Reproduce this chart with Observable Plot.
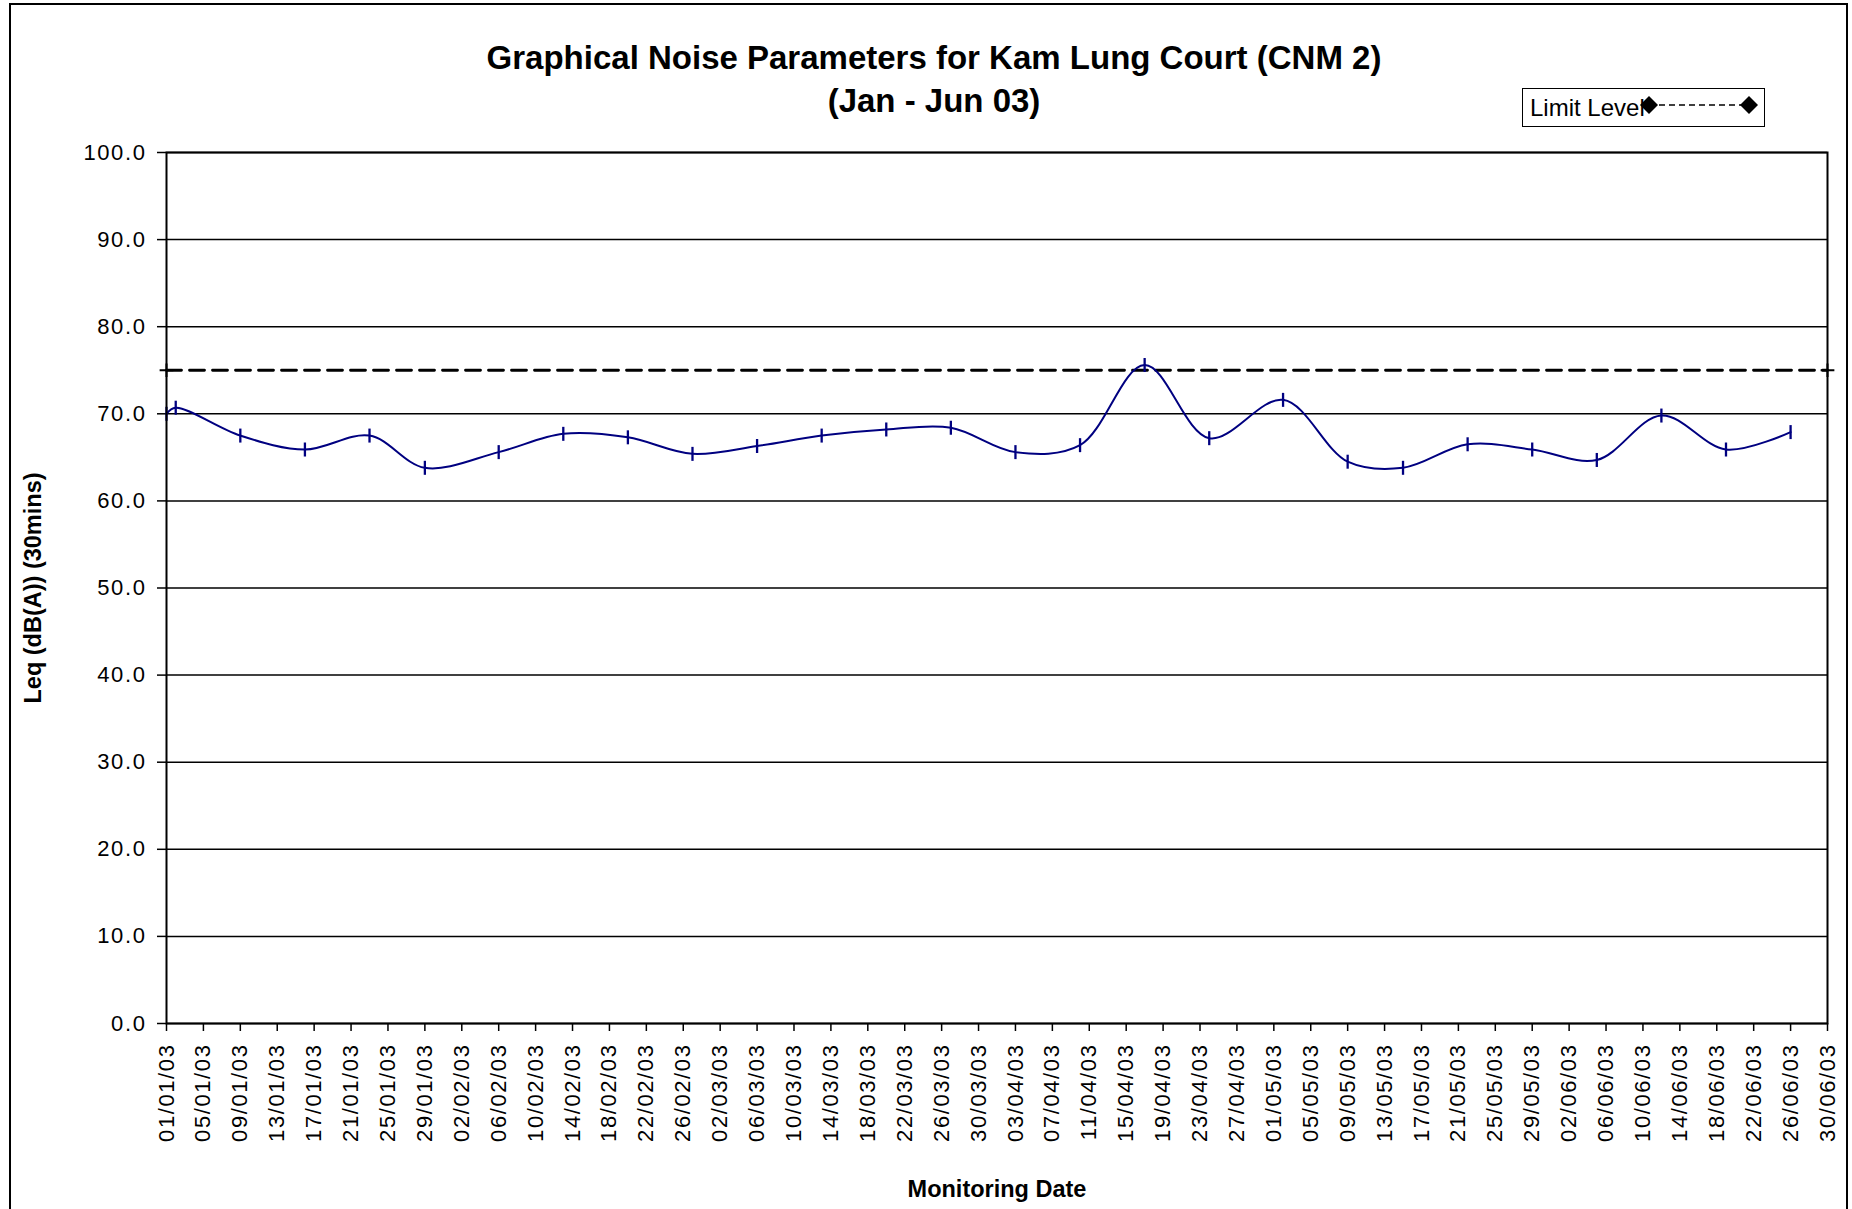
<!DOCTYPE html>
<html>
<head>
<meta charset="utf-8">
<script src="https://cdn.jsdelivr.net/npm/d3@7"></script>
<script src="https://cdn.jsdelivr.net/npm/@observablehq/plot@0.6"></script>
<style>
  body { margin: 0; background: #fff; font-family: "Liberation Sans", Arial, sans-serif; }
  #wrap { position: relative; width: 1852px; height: 1209px; overflow: hidden; background: #fff; }
  #header { position: relative; height: 130px; }
  #title { position: absolute; left: 934px; top: 36px; transform: translateX(-50%); text-align: center;
           font-weight: bold; font-size: 33px; line-height: 43px; white-space: nowrap; color: #000; }
  #legend { position: absolute; left: 1522px; top: 88px; width: 243px; height: 39px; box-sizing: border-box;
            border: 1.5px solid #000; background: #fff; }
  #legend span { position: absolute; left: 7px; top: 6px; font-size: 24px; line-height: 26px; color: #000; }
  #legend svg { position: absolute; left: 110px; top: 0px; }
  #frame { position: absolute; left: 9px; top: 3px; width: 1839px; height: 1260px; box-sizing: border-box;
           border: 2px solid #000; pointer-events: none; }
  #chart svg { display: block; }
  #chart svg g[aria-label="x-axis tick label"] text,
  #chart svg g[aria-label="y-axis tick label"] text { letter-spacing: 1.6px; }
</style>
</head>
<body>
<div id="wrap">
  <div id="header">
    <div id="title">Graphical Noise Parameters for Kam Lung Court (CNM 2)<br>(Jan - Jun 03)</div>
    <div id="legend">
      <span>Limit Level</span>
      <svg width="130" height="36" viewBox="0 0 130 36">
        <line x1="16" y1="16" x2="116" y2="16" stroke="#000" stroke-width="1.5" stroke-dasharray="6,4"></line>
        <path d="M16,7 L25,16 L16,25 L7,16 Z" fill="#000"></path>
        <path d="M116,7 L125,16 L116,25 L107,16 Z" fill="#000"></path>
      </svg>
    </div>
  </div>
  <div id="chart"></div>
  <div id="frame"></div>
</div>
<script>
// ---- data ----
const dates = [
  "2003-01-01","2003-01-02","2003-01-09","2003-01-16","2003-01-23","2003-01-29",
  "2003-02-06","2003-02-13","2003-02-20","2003-02-27","2003-03-06","2003-03-13",
  "2003-03-20","2003-03-27","2003-04-03","2003-04-10","2003-04-17","2003-04-24",
  "2003-05-02","2003-05-09","2003-05-15","2003-05-22","2003-05-29","2003-06-05",
  "2003-06-12","2003-06-19","2003-06-26"
];
const leq = [
  70.0, 70.7, 67.5, 65.9, 67.5, 63.8,
  65.6, 67.7, 67.3, 65.4, 66.3, 67.5,
  68.2, 68.4, 65.6, 66.4, 75.6, 67.2,
  71.6, 64.5, 63.8, 66.5, 65.9, 64.7,
  69.8, 65.9, 67.9
];
const limitDates = ["2003-01-01", "2003-06-30"];
const limitValues = [75.0, 75.0];
const yTicks = [0, 10, 20, 30, 40, 50, 60, 70, 80, 90, 100];
const xDomain = ["2003-01-01", "2003-06-30"];
const xTickStepDays = 4;

// ---- tables ----
const series = dates.map((d, i) => ({date: new Date(d), leq: leq[i]}));
const limit = limitDates.map((d, i) => ({date: new Date(d), leq: limitValues[i]}));
const xStart = new Date(xDomain[0]), xEnd = new Date(xDomain[1]);
const xTicks = [];
for (let t = xStart; t <= xEnd; t = d3.utcDay.offset(t, xTickStepDays)) xTicks.push(t);

const vbar = {
  draw(context, size) {
    const r = Math.sqrt(size / Math.PI);
    context.moveTo(0, -r);
    context.lineTo(0, r);
  }
};

const font = "'Liberation Sans', Arial, sans-serif";

const chart = Plot.plot({
  width: 1852,
  height: 1079,
  marginLeft: 166,
  marginRight: 25,
  marginTop: 22,
  marginBottom: 186,
  style: {fontFamily: font, fontSize: "22px", color: "#000", background: "#fff"},
  x: {type: "utc", domain: [xStart, xEnd]},
  y: {domain: [0, 100]},
  marks: [
    Plot.gridY(yTicks, {stroke: "#000", strokeOpacity: 1, strokeWidth: 1.5}),
    Plot.axisY(yTicks, {tickFormat: d3.format(".1f"), tickSize: 9, tickPadding: 11, fontSize: 22, label: null, stroke: "#000", strokeWidth: 1.5}),
    Plot.axisX(xTicks, {tickFormat: d3.utcFormat("%d/%m/%y"), tickSize: 8, tickPadding: 12, tickRotate: -90, fontSize: 22, label: null, stroke: "#000", strokeWidth: 1.5}),
    Plot.line(limit, {x: "date", y: "leq", stroke: "#000", strokeWidth: 2.8, strokeDasharray: "15,8"}),
    Plot.dot(limit, {x: "date", y: "leq", symbol: "plus", r: 4.5, stroke: "#000", strokeWidth: 2, fill: "none"}),
    Plot.line(series, {x: "date", y: "leq", stroke: "#000080", strokeWidth: 2, curve: "catmull-rom"}),
    Plot.dot(series, {x: "date", y: "leq", symbol: vbar, r: 7, stroke: "#000080", strokeWidth: 2.3, fill: "none"}),
    Plot.frame({stroke: "#000", strokeWidth: 2}),
    Plot.text(["Monitoring Date"], {text: d => d, frameAnchor: "bottom", textAnchor: "middle", dy: 173, fontWeight: "bold", fontSize: 23.5}),
    Plot.text(["Leq (dB(A)) (30mins)"], {text: d => d, frameAnchor: "left", textAnchor: "middle", dx: -133, rotate: -90, fontWeight: "bold", fontSize: 23.5})
  ]
});
document.getElementById("chart").appendChild(chart);
</script>
</body>
</html>
